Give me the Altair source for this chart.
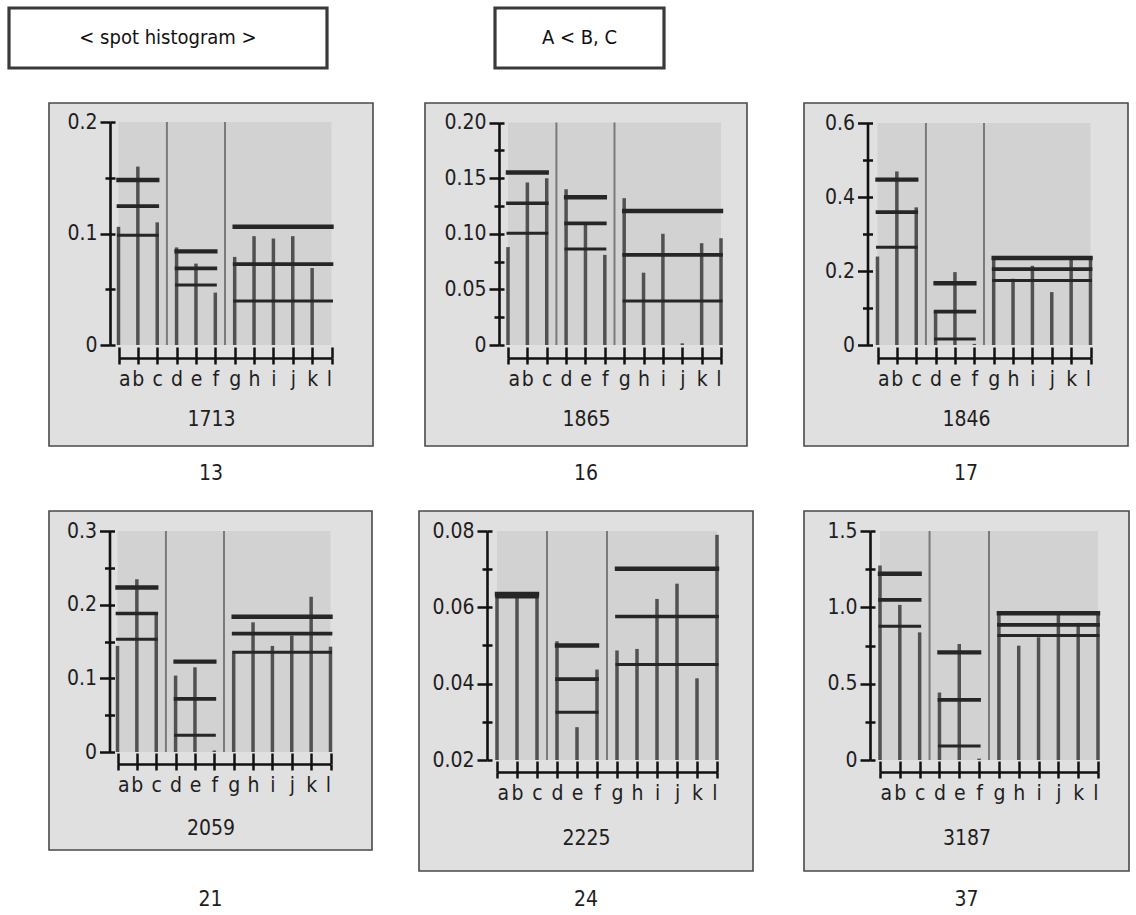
import altair as alt
import pandas as pd

FONT = "'Liberation Sans Narrow', 'DejaVu Sans Condensed', 'Liberation Sans', Arial, sans-serif"

# ---------------- data ----------------
categories = ["a", "b", "c", "d", "e", "f", "g", "h", "i", "j", "k", "l"]
group_first = ["a", "d", "g"]
group_last = ["c", "f", "l"]
level_kinds = ["upper", "mean", "lower"]

header_texts = ["< spot histogram >", "A < B, C"]
panel_ids = ["1713", "1865", "1846", "2059", "2225", "3187"]
panel_numbers = ["13", "16", "17", "21", "24", "37"]

bars_1713 = [0.106, 0.160, 0.110, 0.0875, 0.073, 0.047, 0.079, 0.0976, 0.0955, 0.0976, 0.069, None]
bars_1865 = [0.088, 0.146, 0.150, 0.140, 0.108, 0.081, 0.132, 0.065, 0.100, 0.0015, 0.0915, 0.096]
bars_1846 = [0.239, 0.469, 0.372, 0.090, 0.197, 0.003, 0.239, 0.179, 0.214, 0.143, 0.232, 0.239]
bars_2059 = [0.144, 0.2345, 0.1885, 0.1037, 0.115, 0.002, 0.134, 0.176, 0.144, 0.158, 0.2107, 0.143]
bars_2225 = [0.0631, 0.0631, 0.0631, 0.0511, 0.0286, 0.0437, 0.0487, 0.0491, 0.0622, 0.0662, 0.0414, 0.079]
bars_3187 = [1.274, 1.016, 0.836, 0.442, 0.760, 0.009, 0.968, 0.749, 0.804, 0.957, 0.898, 0.968]

# per group: [upper, mean, lower]
levels_1713 = [[0.148, 0.1245, 0.0985], [0.084, 0.0687, 0.0537], [0.106, 0.0725, 0.0394]]
levels_1865 = [[0.155, 0.1274, 0.1004], [0.1328, 0.1094, 0.0864], [0.1205, 0.081, 0.0396]]
levels_1846 = [[0.447, 0.359, 0.264], [0.167, 0.090, 0.016], [0.235, 0.205, 0.174]]
levels_2059 = [[0.2233, 0.188, 0.153], [0.1227, 0.072, 0.0226], [0.1836, 0.1606, 0.1353]]
levels_2225 = [[0.0635, 0.0631, 0.0627], [0.050, 0.0412, 0.0325], [0.0701, 0.0576, 0.045]]
levels_3187 = [[1.22, 1.049, 0.876], [0.705, 0.394, 0.092], [0.961, 0.885, 0.815]]

ticks_1713 = [0, 0.1, 0.2]
tick_labels_1713 = ["0", "0.1", "0.2"]
minor_1713 = [0.05, 0.15]
ticks_1865 = [0, 0.05, 0.10, 0.15, 0.20]
tick_labels_1865 = ["0", "0.05", "0.10", "0.15", "0.20"]
minor_1865 = [0.025, 0.075, 0.125, 0.175]
ticks_1846 = [0, 0.2, 0.4, 0.6]
tick_labels_1846 = ["0", "0.2", "0.4", "0.6"]
minor_1846 = [0.1, 0.3, 0.5]
ticks_2059 = [0, 0.1, 0.2, 0.3]
tick_labels_2059 = ["0", "0.1", "0.2", "0.3"]
minor_2059 = [0.05, 0.15, 0.25]
ticks_2225 = [0.02, 0.04, 0.06, 0.08]
tick_labels_2225 = ["0.02", "0.04", "0.06", "0.08"]
minor_2225 = [0.03, 0.05, 0.07]
ticks_3187 = [0, 0.5, 1.0, 1.5]
tick_labels_3187 = ["0", "0.5", "1.0", "1.5"]
minor_3187 = [0.25, 0.75, 1.25]

# ---------------- layout (pixels inside each framed box) ----------------
GEOM = {
    "1713": dict(W=324, H=343, yx=61, xa=69.5, xl=282.5, yt=19, yb=242, xy=255, num_dy=61, toff=17),
    "1865": dict(W=322, H=343, yx=74, xa=83, xl=296, yt=19.5, yb=242, xy=255, num_dy=61, toff=17),
    "1846": dict(W=324, H=343, yx=63.5, xa=73.5, xl=286.5, yt=20, yb=242, xy=255, num_dy=61, toff=17),
    "2059": dict(W=323, H=339, yx=60.5, xa=68.5, xl=281.5, yt=20, yb=241, xy=253, num_dy=64, toff=39),
    "2225": dict(W=334, H=360, yx=68, xa=78, xl=298, yt=20, yb=249, xy=261, num_dy=66, toff=18),
    "3187": dict(W=325, H=360, yx=66, xa=76, xl=294, yt=20, yb=249, xy=261, num_dy=66, toff=18),
}

PANEL_DATA = {
    "1713": (bars_1713, levels_1713, ticks_1713, tick_labels_1713, minor_1713),
    "1865": (bars_1865, levels_1865, ticks_1865, tick_labels_1865, minor_1865),
    "1846": (bars_1846, levels_1846, ticks_1846, tick_labels_1846, minor_1846),
    "2059": (bars_2059, levels_2059, ticks_2059, tick_labels_2059, minor_2059),
    "2225": (bars_2225, levels_2225, ticks_2225, tick_labels_2225, minor_2225),
    "3187": (bars_3187, levels_3187, ticks_3187, tick_labels_3187, minor_3187),
}
PANEL_LABEL = dict(zip(panel_ids, panel_numbers))

AX = "#111111"
TXT = "#1e1e1e"
FS = 21
x_label_expr = "[" + ",".join("'%s'" % c for c in categories) + "][datum.value]"


def y_label_expr(vals, labs):
    expr = "''"
    for v, l in zip(vals, labs):
        expr = "abs(datum.value - %r) < 1e-9 ? '%s' : (%s)" % (v, l, expr)
    return expr


def make_panel(pid):
    bars, levels, major, major_labels, minor = PANEL_DATA[pid]
    g = GEOM[pid]
    W, H = g["W"], g["H"]
    ymin, ymax = major[0], major[-1]
    idx = {c: i for i, c in enumerate(categories)}

    xs = alt.Scale(domain=[0, len(categories) - 1], range=[g["xa"], g["xl"]], nice=False, zero=False)
    ys = alt.Scale(domain=[ymin, ymax], range=[g["yb"], g["yt"]], nice=False, zero=False)

    bars_df = pd.DataFrame({"idx": list(range(len(categories))), "cat": categories,
                            "value": bars, "base": ymin}).dropna()
    rows = []
    for gi, lv in enumerate(levels):
        for k, v in zip(level_kinds, lv):
            rows.append({"x0": idx[group_first[gi]], "x1": idx[group_last[gi]], "y": v, "kind": k})
    lv_df = pd.DataFrame(rows)
    sep_df = pd.DataFrame({
        "pos": [(idx[group_last[i]] + idx[group_first[i + 1]]) / 2 for i in range(len(group_first) - 1)],
        "lo": ymin, "hi": ymax})
    shade_df = pd.DataFrame({"x0": [0], "x1": [len(categories) - 1], "lo": [ymin], "hi": [ymax]})

    x_bottom = alt.Axis(orient="bottom", offset=g["xy"] - H, values=list(range(len(categories))),
                        labelExpr=x_label_expr, tickSize=6, tickWidth=2.5, tickColor=AX,
                        domainColor=AX, domainWidth=2.6, labelFont=FONT, labelFontSize=FS,
                        labelColor=TXT, labelPadding=4, grid=False, zindex=2,
                        title=pid, titleFont=FONT, titleFontSize=FS, titleFontWeight="normal",
                        titleColor=TXT, titleX=W / 2, titleY=g["num_dy"], titleBaseline="middle",
                        titleAlign="center")
    x_top = alt.Axis(orient="top", offset=-g["xy"], values=list(range(len(categories))),
                     labels=False, domain=False, tickSize=11, tickWidth=2.5, tickColor=AX,
                     grid=False, title=None, zindex=2)
    y_main = alt.Axis(orient="left", offset=-g["yx"], values=major,
                      labelExpr=y_label_expr(major, major_labels), tickSize=10, tickWidth=2.5,
                      tickColor=AX, domainColor=AX, domainWidth=2.6, labelFont=FONT,
                      labelFontSize=FS, labelColor=TXT, labelPadding=3, grid=False,
                      title=None, zindex=2)
    y_right = alt.Axis(orient="right", offset=-(W - g["yx"]), values=major + minor,
                       labels=False, domain=False, tickSize=5, tickWidth=2.5, tickColor=AX,
                       grid=False, title=None, zindex=2)
    y_minor = alt.Axis(orient="left", offset=-g["yx"], values=minor, labels=False,
                       domain=False, tickSize=5, tickWidth=2.5, tickColor=AX, grid=False,
                       title=None, zindex=2)

    shade = alt.Chart(shade_df).mark_rect(color="#d2d2d2").encode(
        x=alt.X("x0:Q", scale=xs, axis=None), x2="x1:Q",
        y=alt.Y("lo:Q", scale=ys, axis=None), y2="hi:Q")
    seps = alt.Chart(sep_df).mark_rule(color="#7a7a7a", strokeWidth=2).encode(
        x=alt.X("pos:Q", scale=xs, axis=None),
        y=alt.Y("lo:Q", scale=ys, axis=y_minor), y2="hi:Q")
    bar_layer = alt.Chart(bars_df).mark_rule(color="#515151", strokeWidth=3.5).encode(
        x=alt.X("idx:Q", scale=xs, axis=x_bottom),
        y=alt.Y("base:Q", scale=ys, axis=y_main), y2="value:Q")
    lv_layer = alt.Chart(lv_df).mark_rule(color="#262626", strokeCap="square").encode(
        x=alt.X("x0:Q", scale=xs, axis=x_top), x2="x1:Q",
        y=alt.Y("y:Q", scale=ys, axis=y_right),
        strokeWidth=alt.StrokeWidth("kind:N", scale=alt.Scale(domain=level_kinds, range=[4.4, 3.0, 4.0]),
                                    legend=None))

    return alt.layer(shade, seps, bar_layer, lv_layer).resolve_axis(
        x="independent", y="independent").properties(
        width=W, height=H,
        view=alt.ViewBackground(fill="#e0e0e0", stroke="#4a4a4a", strokeWidth=1.6),
        title=alt.TitleParams(text=PANEL_LABEL[pid], orient="bottom", offset=g["toff"],
                              font=FONT, fontSize=FS, fontWeight="normal", color=TXT,
                              anchor="middle"))


panels = [make_panel(pid) for pid in panel_ids]


def header_box(text, w):
    return alt.Chart(pd.DataFrame({"t": [text]})).mark_text(
        font=FONT, fontSize=20, color="#111").encode(text="t:N").properties(
        width=w, height=60,
        view=alt.ViewBackground(fill="white", stroke="#3a3a3a", strokeWidth=3.2))


header = alt.hconcat(header_box(header_texts[0], 318), header_box(header_texts[1], 169), spacing=164)

spacer = alt.Chart(pd.DataFrame({"t": [""]})).mark_text().encode(text="t:N").properties(
    width=39, height=10, view=alt.ViewBackground(fillOpacity=0, strokeOpacity=0))

row1 = alt.hconcat(panels[0], alt.hconcat(panels[1], panels[2], spacing=55), spacing=50)
row2 = alt.hconcat(panels[3], alt.hconcat(panels[4], panels[5], spacing=49), spacing=45)
rows = alt.hconcat(spacer, alt.vconcat(row1, row2, spacing=25), spacing=0)

chart = alt.vconcat(header, rows, spacing=32).properties(
    padding={"left": 7, "top": 6, "right": 0, "bottom": 0},
    background="white",
).configure(font=FONT)

chart.save("out.html", embed_options={"renderer": "svg", "actions": False})
